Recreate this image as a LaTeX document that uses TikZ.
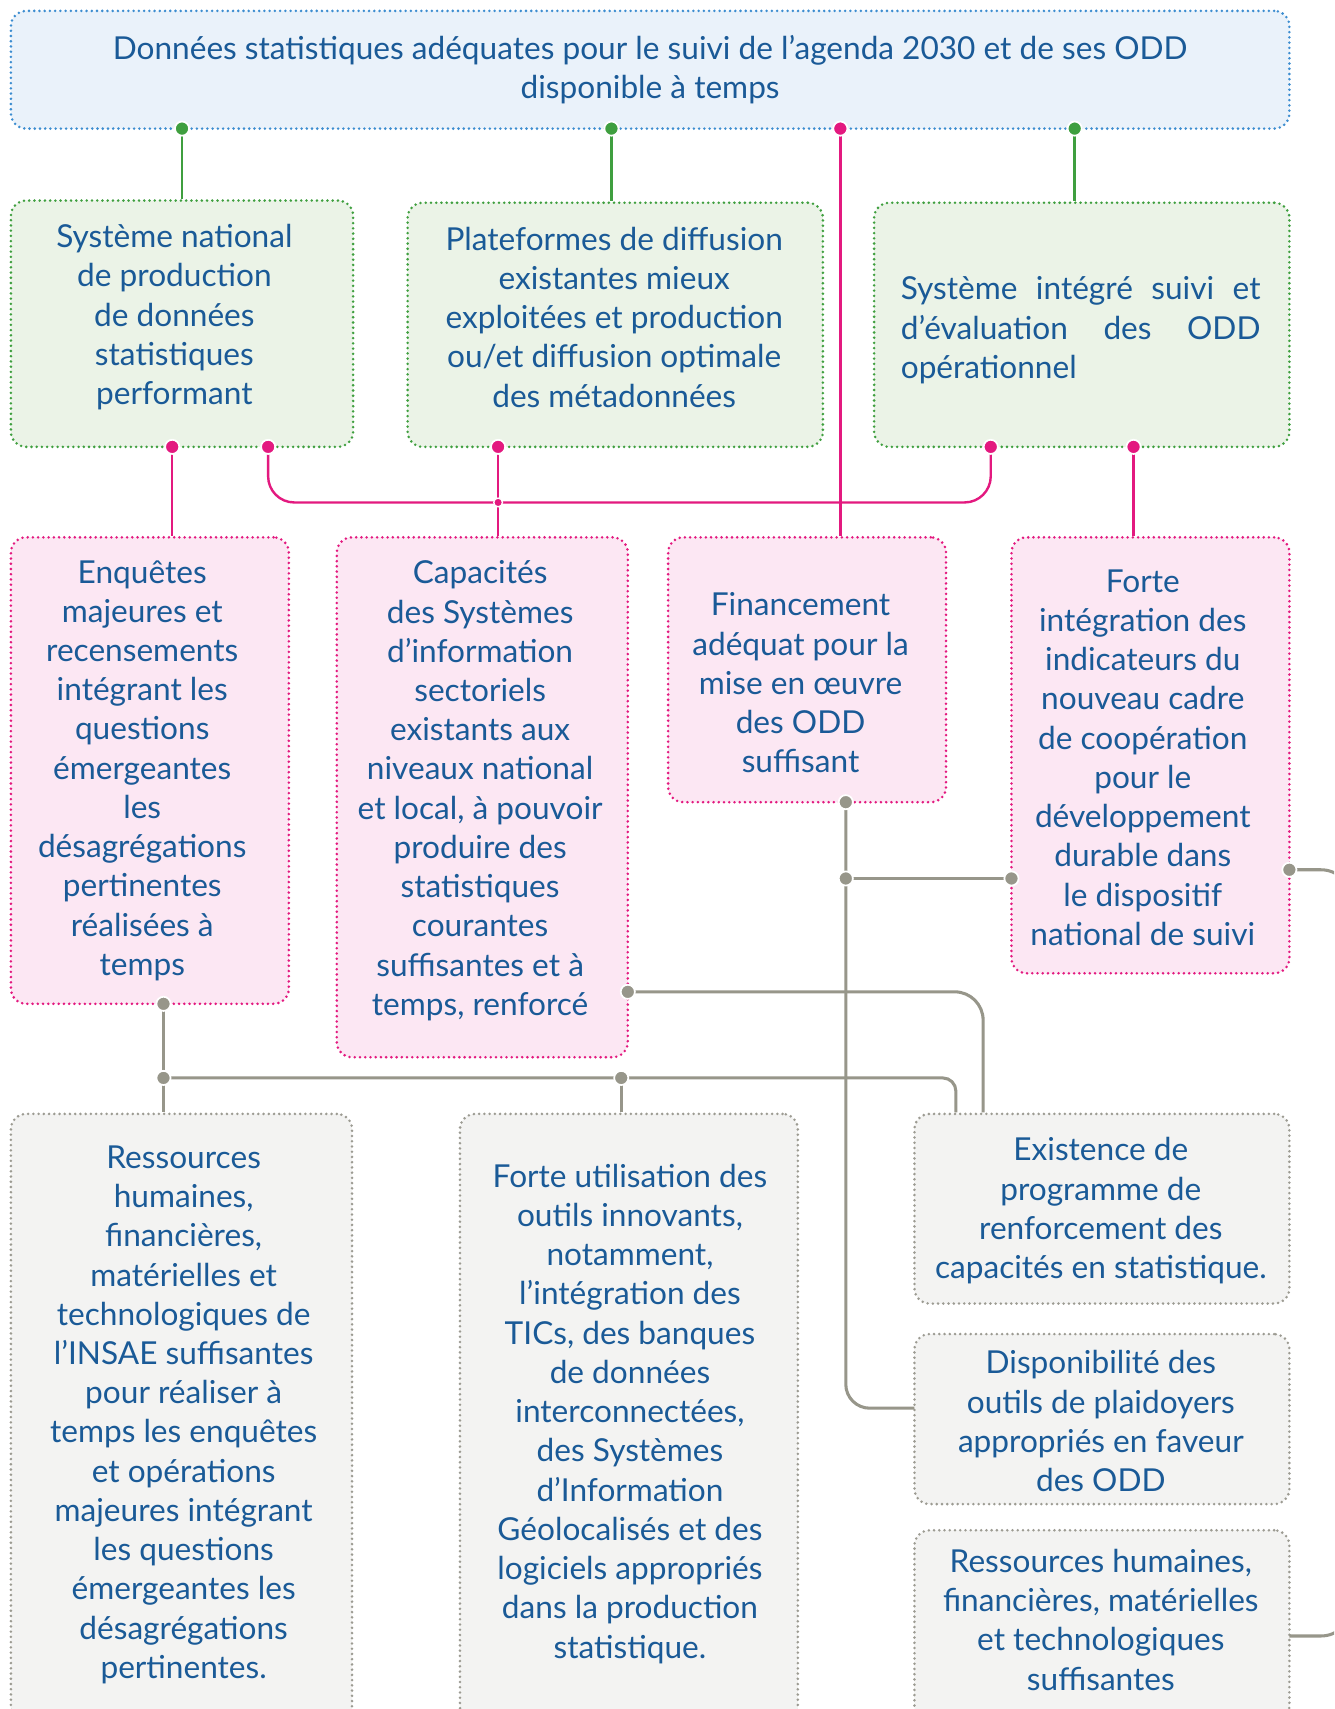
\documentclass[tikz,border=0pt]{standalone}
\usepackage{fontspec}
\setmainfont{Lato}
\definecolor{bluef}{HTML}{EAF2FA}
\definecolor{blueb}{HTML}{3C8DD0}
\definecolor{greenf}{HTML}{EBF3E7}
\definecolor{greenb}{HTML}{3F9F3F}
\definecolor{pinkf}{HTML}{FCE7F3}
\definecolor{pinkb}{HTML}{E3197F}
\definecolor{grayf}{HTML}{F3F3F2}
\definecolor{grayb}{HTML}{9C9B92}
\definecolor{grayl}{HTML}{97968A}
\definecolor{txt}{HTML}{1A5A97}
\tikzset{
  box/.style={rounded corners=7pt, line width=1.3pt, dash pattern=on 0pt off 2.4pt, line cap=round, inner sep=0pt},
  tx/.style={align=center, text=txt, font=\fontsize{14.5}{18}\selectfont, inner sep=0pt},
  topbox/.style={box, draw=blueb, fill=bluef},
  gbox/.style={box, draw=greenb, fill=greenf},
  pbox/.style={box, draw=pinkb, fill=pinkf},
  rbox/.style={box, draw=grayb, fill=grayf},
  gline/.style={draw=greenb, line width=1.1pt},
  pline/.style={draw=pinkb, line width=1.1pt},
  yline/.style={draw=grayl, line width=1.4pt},
  dotbase/.style={circle, draw=white, line width=0.8pt, inner sep=0pt, minimum size=6.5pt},
  gdot/.style={dotbase, fill=greenb},
  pdot/.style={dotbase, fill=pinkb},
  ydot/.style={dotbase, fill=grayl},
  pjdot/.style={circle, draw=white, line width=0.6pt, inner sep=0pt, minimum size=4pt, fill=pinkb},
}
\begin{document}
\begin{tikzpicture}[x=0.5pt,y=-0.5pt]
\useasboundingbox (0,0) rectangle (1224,1568);
\fill[white] (0,0) rectangle (1224,1568);
\clip (0,0) rectangle (1224,1568);

% ---------- boxes ----------
\node[topbox, minimum width=586.5pt, minimum height=54pt] (top) at (596.5,64) {};
\node[tx] (topt) at (top.center)
  {Données statistiques adéquates pour le suivi de l’agenda 2030 et de ses ODD\\ disponible à temps};

\node[gbox, minimum width=157pt, minimum height=113pt] (g1) at (167,297) {};
\node[tx] (g1t) at ([shift={(-7,-6)}]g1.center)
  {Système national\\de production\\de données\\statistiques\\performant};
\node[gbox, minimum width=190.5pt, minimum height=112pt] (g2) at (564.5,298) {};
\node[tx] (g2t) at ([shift={(-1,-7)}]g2.center)
  {Plateformes de diffusion\\existantes mieux\\exploitées et production\\ou/et diffusion optimale\\des métadonnées};
\node[gbox, minimum width=190.5pt, minimum height=112pt] (g3) at (992.5,298) {};
\node[tx, align=left] (g3t) at ([shift={(-1,5)}]g3.center)
  {\makebox[165pt][s]{Système\hfill intégré\hfill suivi\hfill et}\\
   \makebox[165pt][s]{d’évaluation\hfill des\hfill ODD}\\
   \makebox[165pt][l]{opérationnel}};

\node[pbox, minimum width=127.5pt, minimum height=214pt] (p1) at (137.5,707) {};
\node[tx] (p1t) at ([shift={(-7,0)}]p1.center)
  {Enquêtes\\majeures et\\recensements\\intégrant les\\questions\\émergeantes\\les\\désagrégations\\pertinentes\\réalisées à\\temps};
\node[pbox, minimum width=133.5pt, minimum height=238.5pt] (p2) at (442.5,731.5) {};
\node[tx] (p2t) at ([shift={(-2,-6)}]p2.center)
  {Capacités\\des Systèmes\\d’information\\sectoriels\\existants aux\\niveaux national\\et local, à pouvoir\\produire des\\statistiques\\courantes\\suffisantes et à\\temps, renforcé};
\node[pbox, minimum width=127.5pt, minimum height=121.5pt] (p3) at (740.5,614.5) {};
\node[tx] (p3t) at ([shift={(-6,12)}]p3.center)
  {Financement\\adéquat pour la\\mise en œuvre\\des ODD\\suffisant};
\node[pbox, minimum width=127.5pt, minimum height=200pt] (p4) at (1055.5,693) {};
\node[tx] (p4t) at ([shift={(-7,2)}]p4.center)
  {Forte\\intégration des\\indicateurs du\\nouveau cadre\\de coopération\\pour le\\développement\\durable dans\\le dispositif\\national de suivi};

\node[rbox, minimum width=156.5pt, minimum height=279pt] (r1) at (166.5,1301) {};
\node[tx] (r1t) at ([shift={(2,-3)}]r1.center)
  {Ressources\\humaines,\\financières,\\matérielles et\\technologiques de\\l’INSAE suffisantes\\pour réaliser à\\temps les enquêtes\\et opérations\\majeures intégrant\\les questions\\émergeantes les\\désagrégations\\pertinentes.};
\node[rbox, minimum width=155pt, minimum height=279pt] (r2) at (577,1301) {};
\node[tx] (r2t) at ([shift={(1,-4)}]r2.center)
  {Forte utilisation des\\outils innovants,\\notamment,\\l’intégration des\\TICs, des banques\\de données\\interconnectées,\\des Systèmes\\d’Information\\Géolocalisés et des\\logiciels appropriés\\dans la production\\statistique.};
\node[rbox, minimum width=172pt, minimum height=87pt] (r3) at (1011,1109) {};
\node[tx] (r3t) at ([shift={(-1,2)}]r3.center)
  {Existence de\\programme de\\renforcement des\\capacités en statistique.};
\node[rbox, minimum width=172pt, minimum height=78pt] (r4) at (1011,1302) {};
\node[tx] (r4t) at ([shift={(-1,2)}]r4.center)
  {Disponibilité des\\outils de plaidoyers\\appropriés en faveur\\des ODD};
\node[rbox, minimum width=172pt, minimum height=88pt] (r5) at (1011,1492) {};
\node[tx] (r5t) at ([shift={(-1,-6)}]r5.center)
  {Ressources humaines,\\financières, matérielles\\et technologiques\\suffisantes};

% ---------- anchor points ----------
\coordinate (t1) at (167,118);
\coordinate (t2) at (561,118);
\coordinate (t3) at (771,118);
\coordinate (t4) at (986,118);
\coordinate (g1a) at (158,410);
\coordinate (g1b) at (246,410);
\coordinate (g2a) at (457,410);
\coordinate (g3a) at (909,410);
\coordinate (g3b) at (1040,410);
\coordinate (pj) at (457,461);
\coordinate (p1b) at (150,921);
\coordinate (p2r) at (576,910);
\coordinate (p3b) at (776,736);
\coordinate (p4l) at (928,806);
\coordinate (p4r) at (1183,798);
\coordinate (j1) at (150,989);
\coordinate (j2) at (570,989);
\coordinate (j3) at (776,806);
\coordinate (r4l) at (839,1292);
\coordinate (r5r) at (1183,1501);

% ---------- connectors ----------
\draw[gline] (t1) -- (t1 |- g1.north);
\draw[gline] (t2) -- (t2 |- g2.north);
\draw[gline] (t4) -- (t4 |- g3.north);
\draw[pline] (t3) -- (t3 |- p3.north);
\draw[pline] (g1a) -- (g1a |- p1.north);
\draw[pline] (g2a) -- (g2a |- p2.north);
\draw[pline] (g3b) -- (g3b |- p4.north);
\draw[pline, rounded corners=12pt] (g1b) -- (g1b |- pj) -- (g3a |- pj) -- (g3a);

\draw[yline] (p1b) -- (p1b |- r1.north);
\draw[yline, rounded corners=6pt] (j1) -- (877,989) -- (877,989 |- r3.north);
\draw[yline] (j2) -- (j2 |- r2.north);
\draw[yline, rounded corners=13pt] (p2r) -- (902,910) -- (902,910 |- r3.north);
\draw[yline, rounded corners=11pt] (p3b) -- (p3b |- r4l) -- (r4l);
\draw[yline] (j3) -- (p4l);
\draw[yline, rounded corners=14pt] (p4r) -- (1240,798) -- (1240,1501) -- (r5r);

% ---------- dots ----------
\node[gdot] (d1) at (t1) {};
\node[gdot] (d2) at (t2) {};
\node[pdot] (d3) at (t3) {};
\node[gdot] (d4) at (t4) {};
\node[pdot] (d5) at (g1a) {};
\node[pdot] (d6) at (g1b) {};
\node[pdot] (d7) at (g2a) {};
\node[pdot] (d8) at (g3a) {};
\node[pdot] (d9) at (g3b) {};
\node[pjdot] (d10) at (pj) {};
\node[ydot] (d11) at (p1b) {};
\node[ydot] (d12) at (j1) {};
\node[ydot] (d13) at (j2) {};
\node[ydot] (d14) at (p2r) {};
\node[ydot] (d15) at (p3b) {};
\node[ydot] (d16) at (j3) {};
\node[ydot] (d17) at (p4l) {};
\node[ydot] (d18) at (p4r) {};
\end{tikzpicture}
\end{document}
